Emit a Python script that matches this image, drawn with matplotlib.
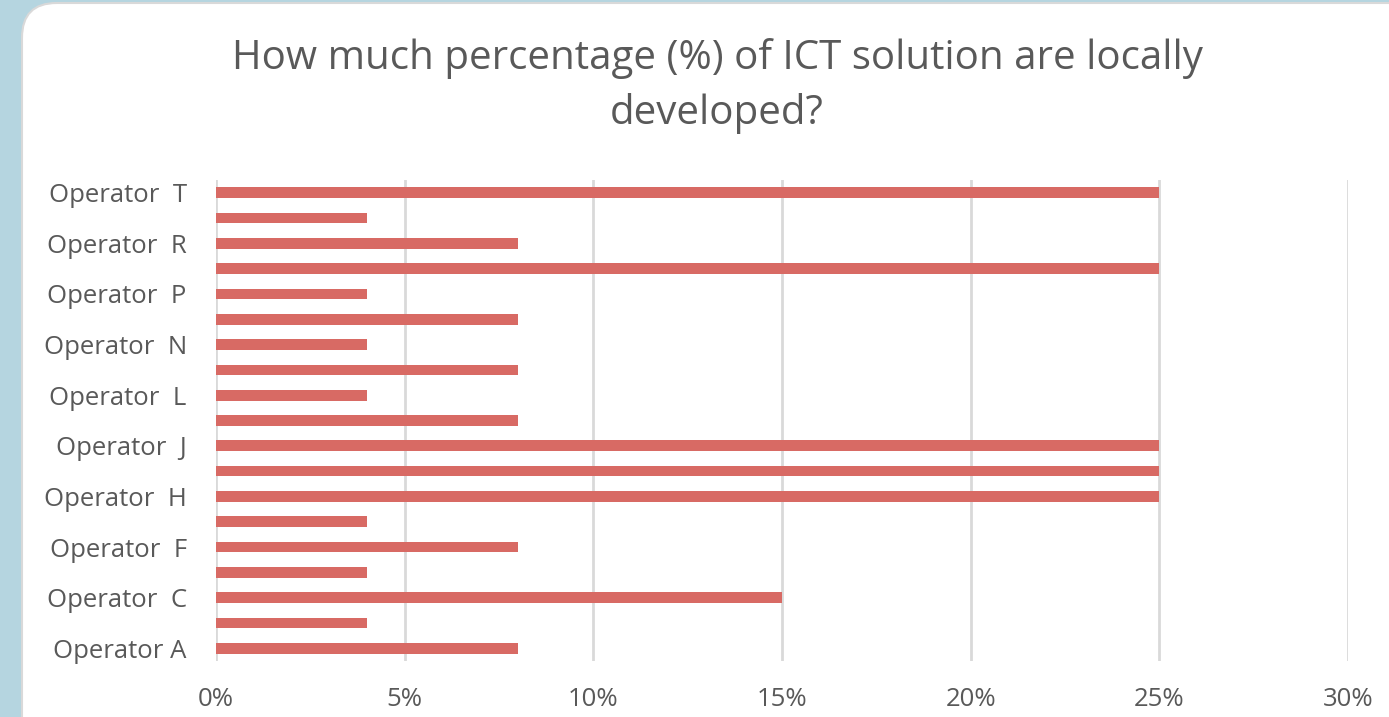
import matplotlib.pyplot as plt
from matplotlib.patches import FancyBboxPatch
import numpy as np

plt.rcParams["font.family"] = ["Open Sans", "DejaVu Sans"]

# operators from bottom to top
operators = ["Operator A", "Operator B", "Operator  C", "Operator  E", "Operator  F",
             "Operator  G", "Operator  H", "Operator  I", "Operator  J", "Operator  K",
             "Operator  L", "Operator  M", "Operator  N", "Operator  O", "Operator  P",
             "Operator  Q", "Operator  R", "Operator  S", "Operator  T"]
local_share = [8, 4, 15, 4, 8, 4, 25, 25, 25, 8, 4, 8, 4, 8, 4, 25, 8, 4, 25]
x_ticks = [0, 5, 10, 15, 20, 25, 30]

text_color = "#595959"
bar_color = "#D86A64"

fig = plt.figure(figsize=(13.89, 7.17), dpi=100)
fig.patch.set_facecolor("#B5D5E0")

# white rounded card behind the chart
card = FancyBboxPatch((22 / 1389, -0.1), 1.1, 1.1 - 3 / 717,
                      boxstyle="round,pad=0,rounding_size=0.025",
                      transform=fig.transFigure, facecolor="white",
                      edgecolor="#D9D9D9", linewidth=1.5, zorder=-5,
                      mutation_aspect=1389 / 717)
fig.patches.append(card)

ax = fig.add_axes([216 / 1389, 1 - 661 / 717, (1348 - 216) / 1389, (661 - 180) / 717])
ax.set_facecolor("none")
ax.set_zorder(2)

y = np.arange(len(operators))
ax.barh(y, local_share, height=0.42, color=bar_color, zorder=3)

ax.set_xlim(0, 30)
ax.set_ylim(-0.5, len(operators) - 0.5)
ax.set_xticks(x_ticks)
ax.set_xticklabels([f"{t}%" for t in x_ticks], fontsize=18.5, color=text_color)
ax.set_yticks(y[::2])
ax.set_yticklabels(operators[::2], fontsize=18.5, color=text_color)
ax.tick_params(length=0)
ax.tick_params(axis="x", pad=19)
ax.tick_params(axis="y", pad=21)
ax.grid(axis="x", color="#D9D9D9", linewidth=2, zorder=0)
for s in ax.spines.values():
    s.set_visible(False)

fig.text(717 / 1389, 1 - 86 / 717,
         "How much percentage (%) of ICT solution are locally\ndeveloped?",
         ha="center", va="center", fontsize=29, color=text_color, linespacing=1.46)

fig.savefig("out.png", dpi=100)
